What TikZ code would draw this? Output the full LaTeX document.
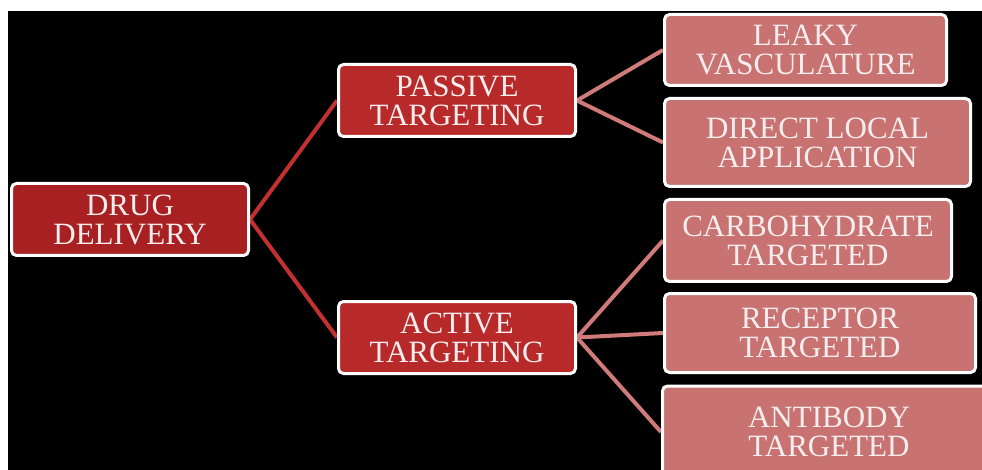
\documentclass[tikz,border=0pt]{standalone}
\usepackage{fontspec}
\setmainfont{Liberation Serif}
\usetikzlibrary{backgrounds}
\definecolor{rootred}{RGB}{168,32,34}
\definecolor{midred}{RGB}{184,42,42}
\definecolor{leafpink}{RGB}{200,114,114}
\definecolor{linkred}{RGB}{196,48,48}
\definecolor{linkpink}{RGB}{208,122,122}
\definecolor{labelwhite}{RGB}{246,238,238}
\tikzset{
  box/.style={draw=white, line width=3pt, rounded corners=5pt, align=center,
    text=labelwhite, inner sep=0pt, font=\fontsize{31}{29}\selectfont},
  rootbox/.style={box, fill=rootred},
  midbox/.style={box, fill=midred},
  leafbox/.style={box, fill=leafpink},
  linkA/.style={draw=linkred, line width=4pt},
  linkB/.style={draw=linkpink, line width=4pt},
}
\begin{document}
\begin{tikzpicture}[x=1pt,y=-1pt]
\useasboundingbox (0,0) rectangle (982,470);
\clip (0,0) rectangle (982,470);
\begin{scope}[on background layer]
\fill[white] (0,0) rectangle (982,470);
\fill[black] (8,11) rectangle (982,470);
\end{scope}

% boxes
\node[rootbox, minimum width=237pt, minimum height=72pt] (dd) at (130,219.5) {DRUG\\DELIVERY};
\node[midbox, minimum width=237pt, minimum height=72pt] (pt) at (457,100.5) {PASSIVE\\TARGETING};
\node[midbox, minimum width=237pt, minimum height=72pt] (at) at (457,337.5) {ACTIVE\\TARGETING};
\node[leafbox, minimum width=282pt, minimum height=71pt] (lv) at (805.5,50) {LEAKY\\VASCULATURE};
\node[leafbox, minimum width=306pt, minimum height=88pt] (dla) at (817.5,142.5) {DIRECT LOCAL\\APPLICATION};
\node[leafbox, minimum width=287pt, minimum height=82pt] (cht) at (808,240.5) {CARBOHYDRATE\\TARGETED};
\node[leafbox, minimum width=311pt, minimum height=79pt] (rt) at (820,333) {RECEPTOR\\TARGETED};
\node[leafbox, minimum width=333pt, minimum height=92pt] (abt) at (829,432) {ANTIBODY\\TARGETED};

% connectors, kept behind the boxes
\begin{scope}[on background layer]
\path[linkA] (dd.east) -- (pt.west);
\path[linkA] (dd.east) -- (at.west);
\path[linkB] (pt.east) -- (lv.west);
\path[linkB] (pt.east) -- (dla.west);
\path[linkB] (at.east) -- (cht.west);
\path[linkB] (at.east) -- (rt.west);
\path[linkB] (at.east) -- (abt.west);
\end{scope}
\end{tikzpicture}
\end{document}
